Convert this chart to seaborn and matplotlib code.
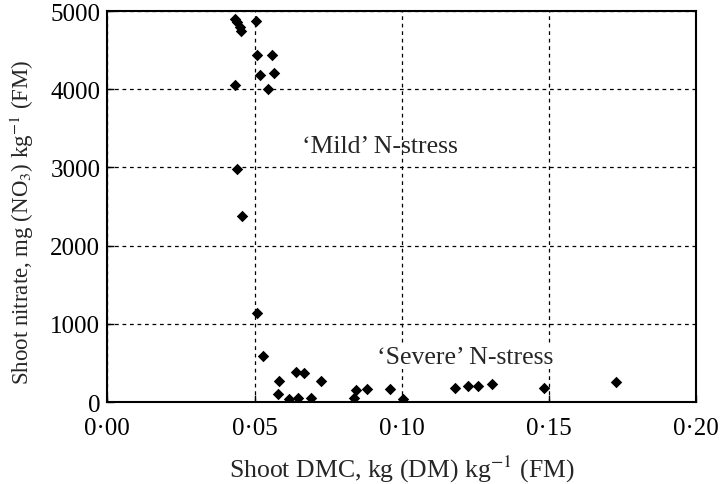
import numpy as np
import pandas as pd
import matplotlib
matplotlib.use('Agg')
import matplotlib.pyplot as plt
import seaborn as sns

# shoot dry matter content, kg DM per kg FM
dmc = [0.0434, 0.0442, 0.0449, 0.0455, 0.0504, 0.0508, 0.0558, 0.0520, 0.0566,
       0.0435, 0.0547, 0.0442, 0.0457, 0.0510, 0.0530, 0.0583, 0.0579, 0.0616,
       0.0641, 0.0648, 0.0669, 0.0692, 0.0725, 0.0839, 0.0846, 0.0882, 0.0959,
       0.1003, 0.1181, 0.1226, 0.1260, 0.1308, 0.1482, 0.1727]
# shoot nitrate, mg NO3 per kg FM
nitrate = [4900, 4860, 4800, 4740, 4880, 4440, 4440, 4180, 4210,
           4060, 4000, 2985, 2380, 1135, 585, 270, 105, 45,
           380, 55, 365, 50, 265, 50, 160, 165, 165,
           45, 180, 200, 200, 225, 185, 255]

xticks = [0.00, 0.05, 0.10, 0.15, 0.20]
yticks = [0, 1000, 2000, 3000, 4000, 5000]
xtick_labels = ['0·00', '0·05', '0·10', '0·15', '0·20']

df = pd.DataFrame({'dmc': dmc, 'nitrate': nitrate})

sns.set_theme(style='white')
plt.rcParams['font.family'] = ['Liberation Serif', 'DejaVu Serif']
plt.rcParams['mathtext.fontset'] = 'stix'

fig = plt.figure(figsize=(7.2, 4.85), dpi=100)
ax = fig.add_axes([0.149, 0.169, 0.818, 0.806])

sns.scatterplot(data=df, x='dmc', y='nitrate', marker='D', s=34,
                color='black', edgecolor='black', linewidth=0, ax=ax, zorder=3)

ax.set_xlim(0, 0.20)
ax.set_ylim(0, 5000)
ax.set_xticks(xticks)
ax.set_xticklabels(xtick_labels)
ax.set_yticks(yticks)
ax.set_yticklabels([str(t) for t in yticks])

ax.grid(True, color='black', linestyle=(0, (3, 3)), linewidth=0.9)
for s in ax.spines.values():
    s.set_color('black')
    s.set_linewidth(1.5)

ax.tick_params(axis='both', direction='in', length=5, width=1, colors='black',
               labelsize=18, bottom=True, left=True)
ax.tick_params(axis='x', pad=11)
ax.tick_params(axis='y', pad=5)

ax.set_xlabel(r'Shoot DMC, kg (DM) kg$^{-1}$ (FM)', fontsize=18.5, labelpad=10)
ax.set_ylabel(r'Shoot nitrate, mg (NO$_3$) kg$^{-1}$ (FM)', fontsize=16.5)
ax.yaxis.set_label_coords(-0.121, 0.463)

ax.text(0.0927, 3270, "‘Mild’ N-stress", fontsize=18.5, ha='center', va='center')
ax.text(0.1217, 575, "‘Severe’ N-stress", fontsize=18.5, ha='center', va='center',
        bbox=dict(facecolor='white', edgecolor='none', pad=1))

fig.savefig('out.png', dpi=100)
